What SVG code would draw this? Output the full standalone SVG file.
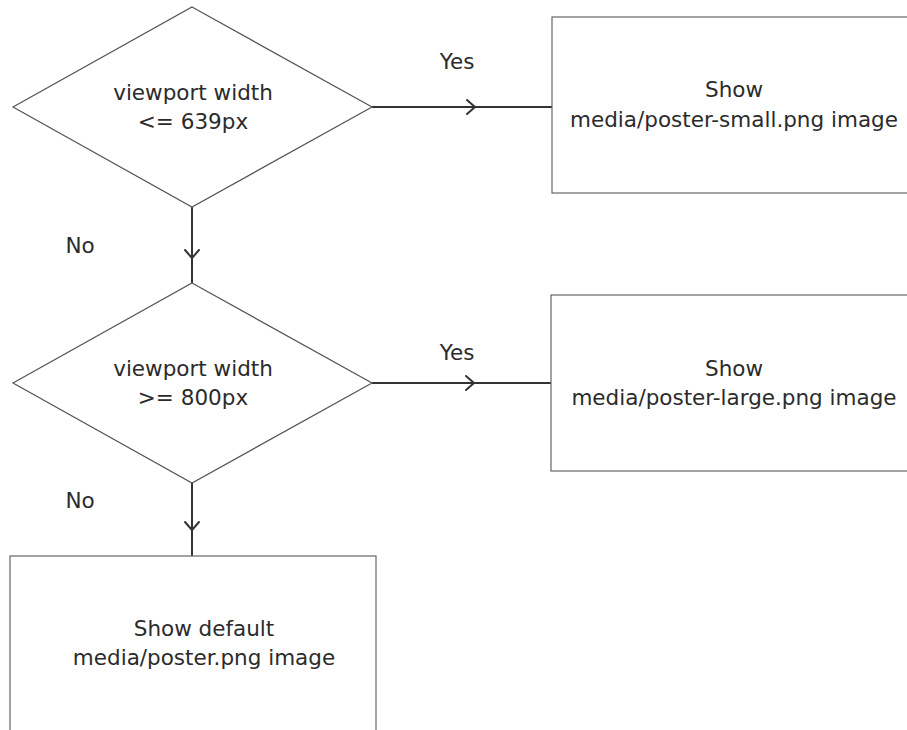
<svg xmlns="http://www.w3.org/2000/svg" width="907" height="730" viewBox="0 0 907 730">
<style>
.shape{fill:#fff;stroke:#555;stroke-width:1.2}
.box{fill:#fff;stroke:#666;stroke-width:1.2}
.edge{fill:none;stroke:#333;stroke-width:2}
.chev{fill:none;stroke:#333;stroke-width:2;stroke-linecap:round;stroke-linejoin:round}
text{font-family:"DejaVu Sans","Liberation Sans",sans-serif;font-size:21.5px;fill:#2b2b2b;text-anchor:middle}
</style>
<rect width="907" height="730" fill="#fff"/>
<g id="connectors">
<line class="edge" x1="372" y1="107" x2="552" y2="107"/>
<polyline class="chev" points="467,100 475,107 467,114"/>
<text x="457" y="69">Yes</text>
<line class="edge" x1="192" y1="207" x2="192" y2="283"/>
<polyline class="chev" points="185,250 192,258 199,250"/>
<text x="80" y="253">No</text>
<line class="edge" x1="372" y1="383" x2="551" y2="383"/>
<polyline class="chev" points="466,376 474,383 466,390"/>
<text x="457" y="360">Yes</text>
<line class="edge" x1="192" y1="483" x2="192" y2="556"/>
<polyline class="chev" points="185,522 192,530 199,522"/>
<text x="80" y="508">No</text>
</g>
<g id="decision1">
<polygon class="shape" points="192,7 372,107 192,207 13,107"/>
<text x="193" y="100">viewport width</text>
<text x="193" y="129">&lt;= 639px</text>
</g>
<g id="small">
<rect class="box" x="552" y="17" width="360" height="176"/>
<text x="734" y="97">Show</text>
<text x="734" y="127">media/poster-small.png image</text>
</g>
<g id="decision2">
<polygon class="shape" points="192,283 372,383 192,483 13,383"/>
<text x="193" y="376">viewport width</text>
<text x="193" y="405">&gt;= 800px</text>
</g>
<g id="large">
<rect class="box" x="551" y="295" width="361" height="176"/>
<text x="734" y="376">Show</text>
<text x="734" y="405">media/poster-large.png image</text>
</g>
<g id="default">
<rect class="box" x="10" y="556" width="366" height="190"/>
<text x="204" y="636">Show default</text>
<text x="204" y="665">media/poster.png image</text>
</g>
</svg>
